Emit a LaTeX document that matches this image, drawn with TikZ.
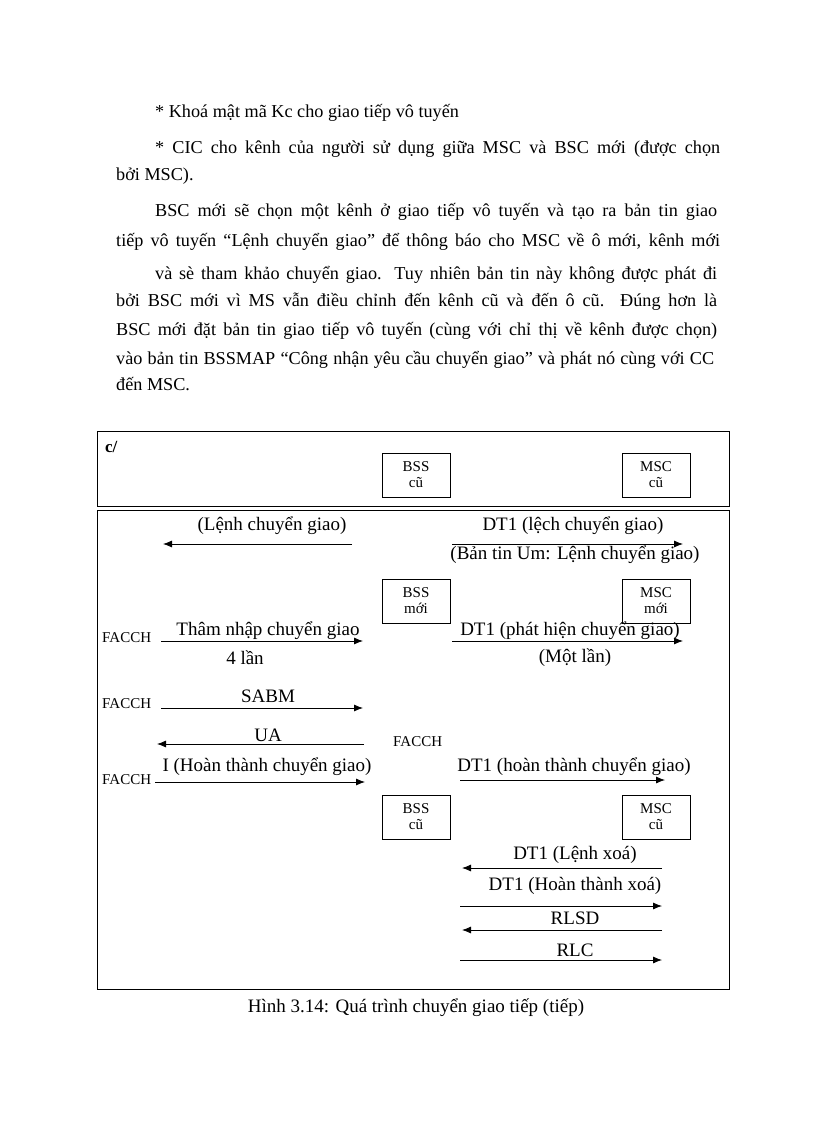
\documentclass[tikz,border=0pt]{standalone}
\usepackage{fontspec}
\setmainfont{Liberation Serif}
\usetikzlibrary{arrows.meta}
\newcommand{\jl}[4]{\node[anchor=base west,inner sep=0] (#1) at (#2) {\makebox[#3pt][s]{#4}};}
\begin{document}
\begin{tikzpicture}[x=1pt,y=-1pt,
  body/.style={anchor=base west,inner sep=0,font=\fontsize{18.2}{20}\selectfont},
  lbl/.style={inner sep=0,font=\fontsize{19}{21}\selectfont},
  small/.style={inner sep=0,font=\fontsize{15}{16}\selectfont},
  ent/.style={draw,line width=0.8pt,minimum width=68pt,minimum height=44pt,inner sep=0,align=center,font=\fontsize{15}{16}\selectfont},
  frame/.style={draw,line width=1pt},
  msg/.style={line width=0.8pt,-{Latex[length=9pt,width=7pt]}}]
\useasboundingbox (0,0) rectangle (816,1123);
\begin{scope}[every node/.style={body}]
\node (p1) at (155,118) {* Khoá mật mã Kc cho giao tiếp vô tuyến};
\jl{p2}{155,154}{565}{* CIC cho kênh của người sử dụng giữa MSC và BSC mới (được chọn}
\node (p3) at (116,181) {bởi MSC).};
\jl{p4}{155,217}{562}{BSC mới sẽ chọn một kênh ở giao tiếp vô tuyến và tạo ra bản tin giao}
\jl{p5}{116,246}{604}{tiếp vô tuyến “Lệnh chuyển giao” để thông báo cho MSC về ô mới, kênh mới}
\jl{p6}{155,279}{562}{và sè tham khảo chuyển giao. Tuy nhiên bản tin này không được phát đi}
\jl{p7}{116,306}{601}{bởi BSC mới vì MS vẫn điều chỉnh đến kênh cũ và đến ô cũ. Đúng hơn là}
\jl{p8}{116,335}{601}{BSC mới đặt bản tin giao tiếp vô tuyến (cùng với chỉ thị về kênh được chọn)}
\jl{p9}{116,364}{598}{vào bản tin BSSMAP “Công nhận yêu cầu chuyển giao” và phát nó cùng với CC}
\node (p10) at (116,390) {đến MSC.};
\end{scope}
% frames
\draw[frame] (97,431) rectangle (729,506);
\draw[frame] (97,510) rectangle (729,989);
\node[inner sep=0,anchor=north west,font=\fontsize{17}{18}\selectfont\bfseries] (c) at (105,441) {c/};
% header entities
\node[ent] (bss0) at (416,475) {BSS\\cũ};
\node[ent] (msc0) at (656,475) {MSC\\cũ};
% row 1
\coordinate (a1s) at (352,544); \coordinate (a1e) at (163,544);
\draw[msg] (a1s) -- (a1e);
\node[lbl] (l1) at (272,526) {(Lệnh chuyển giao)};
\coordinate (a2s) at (452,544); \coordinate (a2e) at (683,544);
\draw[msg] (a2s) -- (a2e);
\node[lbl] (l2) at (573,526) {DT1 (lệch chuyển giao)};
\node[lbl] (l2b) at (575,555) {(Bản tin Um: Lệnh chuyển giao)};
% new entities
\node[ent] (bss1) at (416,601) {BSS\\mới};
\node[ent] (msc1) at (656,601) {MSC\\mới};
% row 2
\node[small,anchor=west] (f1) at (102,638) {FACCH};
\coordinate (a3s) at (161,641); \coordinate (a3e) at (363,641);
\draw[msg] (a3s) -- (a3e);
\node[lbl] (l3) at (268,631) {Thâm nhập chuyển giao};
\node[lbl] (l3b) at (245,658) {4 lần};
\coordinate (a4s) at (452,641); \coordinate (a4e) at (683,641);
\draw[msg] (a4s) -- (a4e);
\node[lbl] (l4) at (570,631) {DT1 (phát hiện chuyển giao)};
\node[lbl] (l4b) at (575,658) {(Một lần)};
% SABM
\node[small,anchor=west] (f2) at (102,704) {FACCH};
\coordinate (a5s) at (161,708); \coordinate (a5e) at (363,708);
\draw[msg] (a5s) -- (a5e);
\node[lbl] (l5) at (268,696) {SABM};
% UA
\coordinate (a6s) at (364,744); \coordinate (a6e) at (157,744);
\draw[msg] (a6s) -- (a6e);
\node[lbl] (l6) at (268,735) {UA};
\node[small,anchor=west] (f3) at (393,742) {FACCH};
% I
\node[small,anchor=west] (f4) at (102,780) {FACCH};
\coordinate (a7s) at (155,782); \coordinate (a7e) at (365,782);
\draw[msg] (a7s) -- (a7e);
\node[lbl] (l7) at (267,767) {I (Hoàn thành chuyển giao)};
\coordinate (a8s) at (460,780); \coordinate (a8e) at (665,780);
\draw[msg] (a8s) -- (a8e);
\node[lbl] (l8) at (574,767) {DT1 (hoàn thành chuyển giao)};
% old entities
\node[ent] (bss2) at (416,817) {BSS\\cũ};
\node[ent] (msc2) at (656,817) {MSC\\cũ};
% release
\coordinate (b1s) at (662,868); \coordinate (b1e) at (462,868);
\draw[msg] (b1s) -- (b1e);
\node[lbl] (m1) at (575,855) {DT1 (Lệnh xoá)};
\coordinate (b2s) at (460,906); \coordinate (b2e) at (662,906);
\draw[msg] (b2s) -- (b2e);
\node[lbl] (m2) at (575,886) {DT1 (Hoàn thành xoá)};
\coordinate (b3s) at (662,930); \coordinate (b3e) at (462,930);
\draw[msg] (b3s) -- (b3e);
\node[lbl] (m3) at (575,918) {RLSD};
\coordinate (b4s) at (460,960); \coordinate (b4e) at (662,960);
\draw[msg] (b4s) -- (b4e);
\node[lbl] (m4) at (575,950) {RLC};
% caption
\node[lbl] (cap) at (416,1008) {Hình 3.14: Quá trình chuyển giao tiếp (tiếp)};
\end{tikzpicture}
\end{document}
